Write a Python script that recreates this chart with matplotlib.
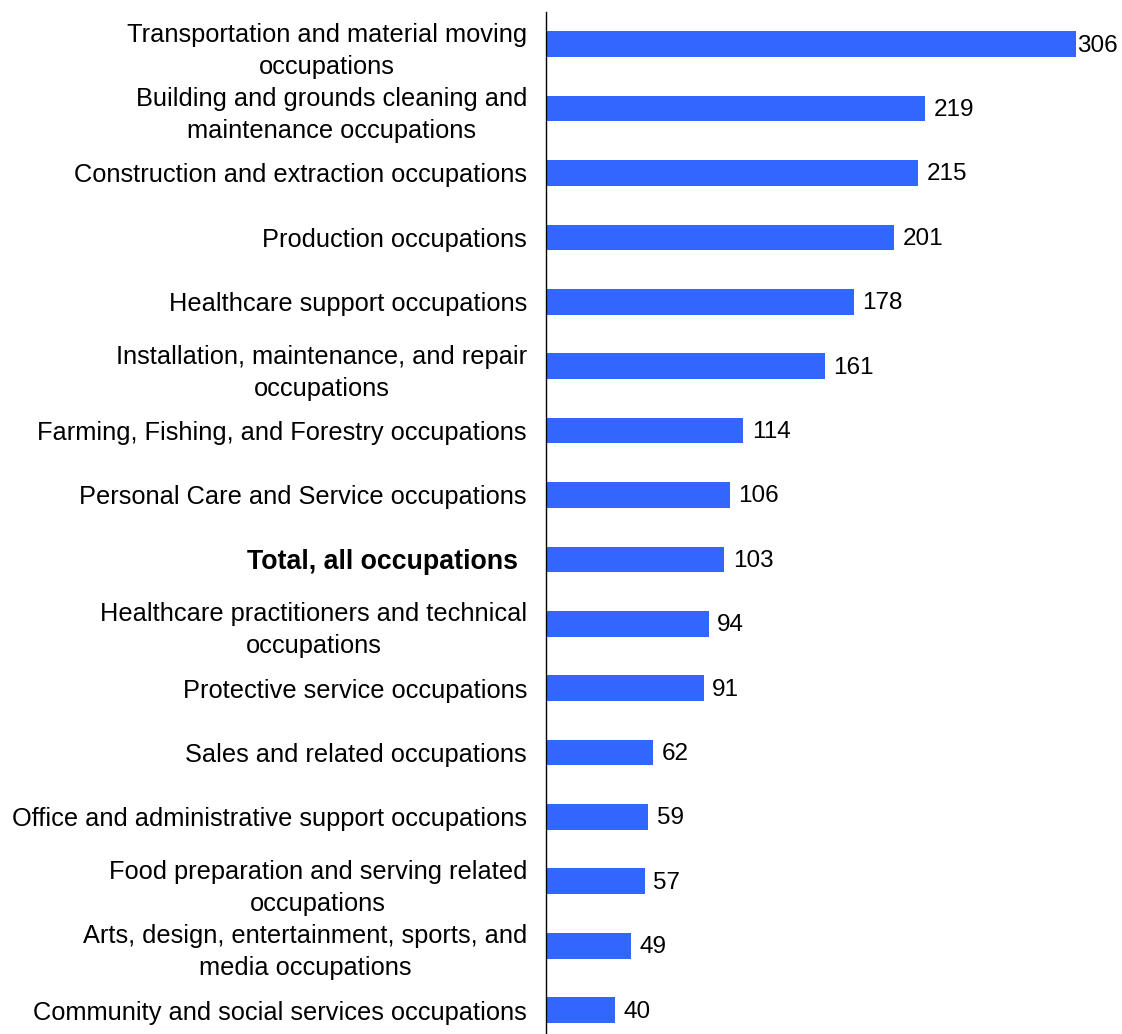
import matplotlib.pyplot as plt
import matplotlib.transforms as mtransforms

occupations = [
    "Transportation and material moving\noccupations",
    "Building and grounds cleaning and\nmaintenance occupations",
    "Construction and extraction occupations",
    "Production occupations",
    "Healthcare support occupations",
    "Installation, maintenance, and repair\noccupations",
    "Farming, Fishing, and Forestry occupations",
    "Personal Care and Service occupations",
    "Total, all occupations",
    "Healthcare practitioners and technical\noccupations",
    "Protective service occupations",
    "Sales and related occupations",
    "Office and administrative support occupations",
    "Food preparation and serving related\noccupations",
    "Arts, design, entertainment, sports, and\nmedia occupations",
    "Community and social services occupations",
]
rates = [306, 219, 215, 201, 178, 161, 114, 106, 103, 94, 91, 62, 59, 57, 49, 40]
total_label = "Total, all occupations"

plt.rcParams['font.family'] = ['Liberation Sans', 'DejaVu Sans']

fig = plt.figure(figsize=(11.22, 10.34), dpi=100)
ax = fig.add_axes([546 / 1122, 0.0, 1 - 546 / 1122, 1 - 12 / 1034])

ypos = list(range(len(rates)))
ax.barh(ypos, rates, height=0.4, color='#3366FF')
ax.set_xlim(0, 332.6)
ax.set_ylim(15.37, -0.5)

for spine in ['top', 'right', 'bottom']:
    ax.spines[spine].set_visible(False)
ax.spines['left'].set_linewidth(1.0)
ax.spines['left'].set_color('black')
ax.set_xticks([])
ax.set_yticks(ypos)
ax.set_yticklabels(occupations, fontsize=18.3, linespacing=1.42, multialignment='center')
ax.tick_params(axis='y', length=0, pad=13.7)

for lab in ax.get_yticklabels():
    if lab.get_text() == total_label:
        lab.set_fontweight('bold')
        lab.set_fontsize(19.3)
        lab.set_transform(lab.get_transform() + mtransforms.ScaledTranslation(-9 / 100, 0, fig.dpi_scale_trans))

# value labels at the bar ends; pull the label in when it would run off the edge
for y, v in zip(ypos, rates):
    off = 1 if v == max(rates) else 6
    ax.annotate(str(v), xy=(v, y), xytext=(off, -1), textcoords='offset points',
                va='center', ha='left', fontsize=17.5, annotation_clip=False)

fig.savefig('out.png', dpi=100)
